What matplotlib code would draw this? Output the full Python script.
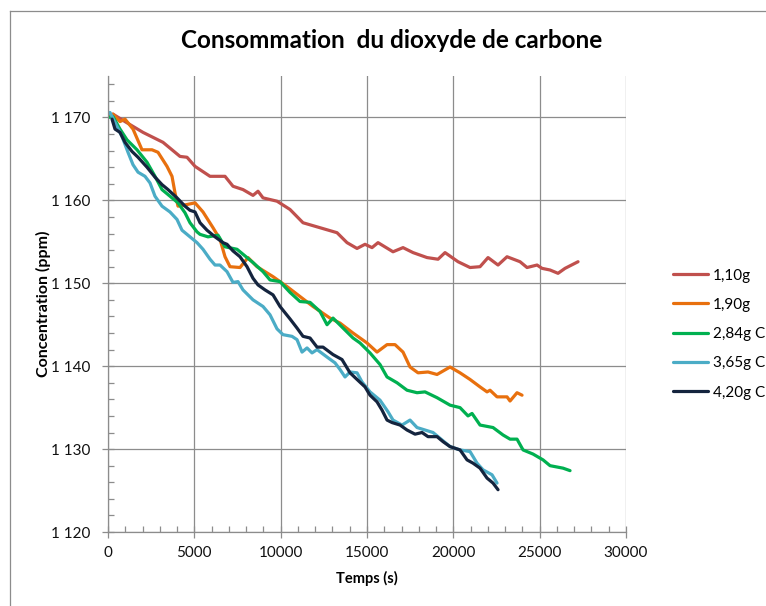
import matplotlib
matplotlib.use("Agg")
import matplotlib.pyplot as plt
from matplotlib.lines import Line2D
from matplotlib.ticker import MultipleLocator, FixedLocator

plt.rcParams['font.family'] = ['Lato', 'DejaVu Sans']

# Temps (s) and CO2 concentration (ppm) for each sample mass
t_110 = [0, 290, 985, 2027, 3186, 4170, 4576, 5040, 5908, 6777, 7240, 7819, 8398, 8688,
         8978, 9789, 10541, 11294, 12279, 13264, 13843, 14422, 14885, 15291, 15638, 16507,
         17086, 17666, 18477, 19114, 19519, 20272, 20967, 21546, 22010, 22589, 23110, 23863,
         24268, 24848, 25137, 25601, 26064, 26469, 27222]
c_110 = [1170.2, 1170.4, 1169.5, 1168.2, 1167.0, 1165.3, 1165.2, 1164.1, 1162.9, 1162.9,
         1161.7, 1161.3, 1160.6, 1161.1, 1160.3, 1159.9, 1158.9, 1157.3, 1156.7, 1156.1,
         1154.9, 1154.2, 1154.7, 1154.3, 1154.9, 1153.8, 1154.3, 1153.7, 1153.1, 1152.9,
         1153.7, 1152.6, 1151.9, 1152.0, 1153.1, 1152.2, 1153.2, 1152.6, 1151.9, 1152.2,
         1151.8, 1151.6, 1151.2, 1151.8, 1152.6]

t_190 = [0, 290, 695, 985, 1448, 1969, 2548, 2896, 3417, 3707, 3881, 4054, 4576, 5040,
         5502, 6082, 6487, 6777, 7066, 7645, 8109, 8630, 9557, 10368, 11121, 11874, 12858,
         13437, 14190, 15001, 15580, 16160, 16623, 17086, 17492, 17955, 18534, 19056, 19809,
         20388, 20967, 21546, 21952, 22126, 22531, 23110, 23284, 23689, 23979]
c_190 = [1170.2, 1170.4, 1169.5, 1169.8, 1168.6, 1166.1, 1166.1, 1165.8, 1164.1, 1162.9,
         1160.9, 1159.3, 1159.5, 1159.7, 1158.6, 1156.7, 1155.3, 1153.2, 1152.0, 1151.9,
         1153.1, 1152.0, 1150.8, 1149.6, 1148.4, 1147.2, 1145.8, 1145.2, 1144.0, 1142.8,
         1141.7, 1142.6, 1142.6, 1141.7, 1139.9, 1139.2, 1139.3, 1139.0, 1139.9, 1139.2,
         1138.4, 1137.5, 1136.9, 1137.1, 1136.3, 1136.3, 1135.8, 1136.8, 1136.5]

t_284 = [0, 290, 695, 1100, 1680, 2259, 2722, 3128, 3591, 4054, 4460, 4749, 5155, 5329,
         5792, 6371, 6777, 7472, 7819, 8398, 8978, 9383, 9962, 10541, 11121, 11700, 12279,
         12685, 13032, 13611, 14190, 14596, 15175, 15754, 16160, 16739, 17318, 17897, 18361,
         19056, 19809, 20388, 20851, 21083, 21546, 22299, 22879, 23284, 23689, 24037, 24616,
         25195, 25601, 26354, 26759]
c_284 = [1170.0, 1170.1, 1168.6, 1167.3, 1166.1, 1164.6, 1162.9, 1161.3, 1160.5, 1159.7,
         1158.5, 1157.3, 1156.2, 1155.9, 1155.6, 1155.8, 1154.4, 1154.1, 1153.5, 1152.5,
         1151.4, 1150.4, 1150.2, 1148.9, 1147.8, 1147.7, 1146.6, 1145.0, 1145.8, 1144.6,
         1143.4, 1142.8, 1141.6, 1140.2, 1138.7, 1138.0, 1137.1, 1136.8, 1136.9, 1136.2,
         1135.3, 1135.0, 1134.0, 1134.3, 1132.9, 1132.6, 1131.7, 1131.2, 1131.2, 1129.9,
         1129.4, 1128.7, 1128.0, 1127.7, 1127.4]

t_365 = [0, 116, 405, 811, 1158, 1448, 1738, 2143, 2433, 2722, 3128, 3591, 3996, 4286,
         4749, 5155, 5502, 5908, 6198, 6487, 6893, 7240, 7530, 7819, 8398, 8978, 9383, 9789,
         10136, 10657, 10947, 11237, 11526, 11816, 12106, 12685, 13148, 13437, 13727, 14017,
         14422, 14712, 15175, 15754, 16218, 16507, 17028, 17492, 17897, 18361, 18824, 19345,
         19809, 20388, 20967, 21373, 21720, 22241, 22531]
c_365 = [1170.5, 1170.6, 1169.4, 1167.7, 1165.8, 1164.3, 1163.4, 1162.9, 1162.1, 1160.5,
         1159.3, 1158.6, 1157.7, 1156.4, 1155.6, 1154.9, 1154.1, 1152.9, 1152.2, 1152.2,
         1151.4, 1150.1, 1150.2, 1149.2, 1148.0, 1147.2, 1146.2, 1144.5, 1143.8, 1143.6,
         1143.2, 1141.7, 1142.2, 1141.6, 1142.0, 1141.1, 1140.4, 1139.6, 1138.7, 1139.3,
         1139.2, 1138.1, 1136.9, 1135.9, 1134.5, 1133.5, 1132.9, 1133.5, 1132.6, 1132.3,
         1132.0, 1131.1, 1130.3, 1129.9, 1129.7, 1128.3, 1127.5, 1126.9, 1125.9]

t_420 = [232, 405, 695, 985, 1390, 1738, 2259, 2722, 3128, 3475, 3996, 4460, 4749, 5040,
         5329, 5734, 6198, 6661, 6893, 7240, 7645, 8051, 8398, 8688, 9094, 9557, 9962, 10541,
         10947, 11294, 11700, 12106, 12453, 13032, 13553, 14017, 14422, 14885, 15175, 15580,
         15870, 16160, 16449, 16913, 17318, 17782, 18187, 18534, 19056, 19403, 19809, 20388,
         20793, 21141, 21546, 21952, 22299, 22589]
c_420 = [1169.8, 1168.6, 1168.2, 1167.0, 1165.9, 1165.2, 1164.0, 1162.8, 1161.9, 1161.3,
         1160.3, 1159.3, 1158.8, 1158.6, 1157.3, 1156.4, 1155.6, 1154.9, 1154.7, 1153.9,
         1153.2, 1152.0, 1150.6, 1149.8, 1149.2, 1148.6, 1147.2, 1145.7, 1144.6, 1143.6,
         1143.4, 1142.3, 1142.3, 1141.4, 1140.8, 1139.2, 1138.4, 1137.5, 1136.5, 1135.7,
         1134.7, 1133.5, 1133.2, 1132.9, 1132.3, 1131.8, 1132.0, 1131.5, 1131.5, 1130.9,
         1130.3, 1129.9, 1128.7, 1128.3, 1127.7, 1126.5, 1125.9, 1125.1]

series_labels = ['1,10g', '1,90g', '2,84g C', '3,65g C', '4,20g C']
series_colors = ['#C0504D', '#E8700E', '#00B050', '#4BACC6', '#14243E']
series_t = [t_110, t_190, t_284, t_365, t_420]
series_c = [c_110, c_190, c_284, c_365, c_420]

x_ticks = [0, 5000, 10000, 15000, 20000, 25000, 30000]
y_ticks = [1120, 1130, 1140, 1150, 1160, 1170]
y_tick_labels = ['1 120', '1 130', '1 140', '1 150', '1 160', '1 170']

W, H = 766, 606
fig = plt.figure(figsize=(W / 100, H / 100), dpi=100)

# outer chart frame (left and top edges)
grey = '#8C8C8C'
fig.add_artist(Line2D([9.5 / W, 9.5 / W], [0, 1 - 10.5 / H], transform=fig.transFigure,
                      color=grey, lw=0.9))
fig.add_artist(Line2D([9.5 / W, 1], [1 - 10.5 / H, 1 - 10.5 / H], transform=fig.transFigure,
                      color=grey, lw=0.9))

left, right, top, bottom = 108, 626, 76, 532
ax = fig.add_axes([left / W, 1 - bottom / H, (right - left) / W, (bottom - top) / H])

for t, c, col, lab in zip(series_t, series_c, series_colors, series_labels):
    ax.plot(t, c, color=col, lw=2.3, label=lab, solid_joinstyle='round',
            solid_capstyle='round')

ax.set_xlim(0, 30000)
ax.set_ylim(1120, 1175)
ax.xaxis.set_major_locator(FixedLocator(x_ticks))
ax.xaxis.set_minor_locator(MultipleLocator(1000))
ax.yaxis.set_major_locator(FixedLocator(y_ticks))
ax.yaxis.set_minor_locator(MultipleLocator(2))
ax.set_yticklabels(y_tick_labels)
ax.set_xticklabels([str(v) for v in x_ticks])

ax.grid(True, which='major', color=grey, lw=0.9)
ax.set_axisbelow(True)
for s in ['top', 'right']:
    ax.spines[s].set_visible(False)
for s in ['left', 'bottom']:
    ax.spines[s].set_color(grey)
    ax.spines[s].set_linewidth(0.9)

ax.tick_params(which='major', direction='inout', length=8, width=0.9, color=grey,
               labelsize=11, labelcolor='#111111', pad=6)
ax.tick_params(which='minor', direction='in', length=4, width=0.9, color=grey)
ax.tick_params(axis='y', which='major', pad=9)

ax.set_xlabel('Temps (s)', fontsize=10.5, fontweight='bold', labelpad=8)
ax.set_ylabel('Concentration (ppm)', fontsize=11.5, fontweight='bold', labelpad=0)

fig.text(392 / W, 1 - 41 / H, 'Consommation  du dioxyde de carbone', ha='center',
         va='center', fontsize=17.5, fontweight='bold')

ax.legend(loc='center left', bbox_to_anchor=((667 - left) / (right - left), 0.434),
          frameon=False, fontsize=11, handlelength=2.3, handletextpad=0.3,
          labelspacing=1.0, borderaxespad=0)

fig.savefig('out.png', dpi=100)
